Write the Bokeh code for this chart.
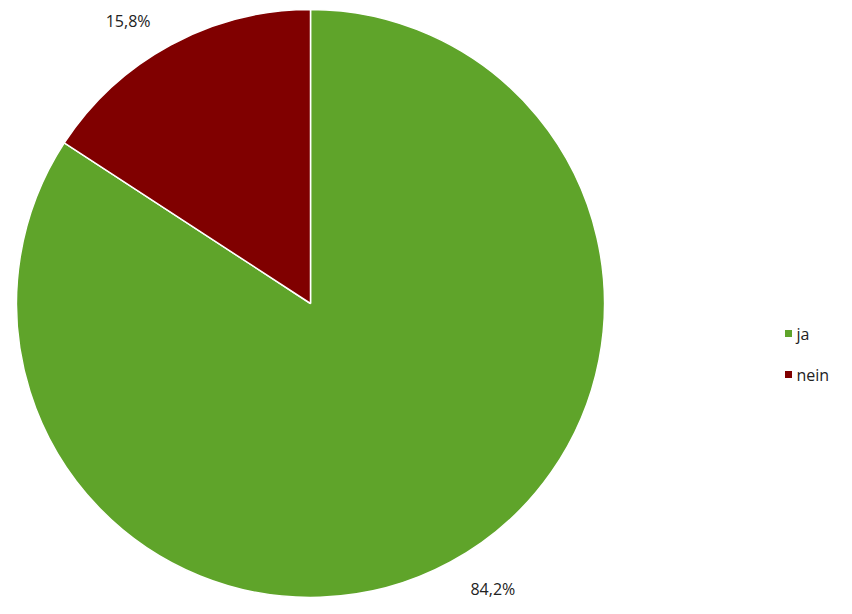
import math
from bokeh.plotting import figure
from bokeh.models import ColumnDataSource
from bokeh.core.properties import value
from bokeh.embed import file_html
from bokeh.resources import INLINE

categories = ["ja", "nein"]
shares = [84.2, 15.8]
labels = ["84,2%", "15,8%"]
colors = ["#5fa42a", "#800000"]

W, H = 836, 598
cx, cy, R = 310, H - 303, 294

# angles: start at top, slices counter-clockwise starting with "nein"
order = [1, 0]
start = math.pi / 2
starts, ends, mids = {}, {}, {}
for i in order:
    a = shares[i] / 100 * 2 * math.pi
    starts[i] = start
    ends[i] = start + a
    mids[i] = start + a / 2
    start += a

src = ColumnDataSource(dict(
    start=[starts[i] for i in range(2)],
    end=[ends[i] for i in range(2)],
    color=colors,
    x=[cx] * 2, y=[cy] * 2,
))

p = figure(width=W, height=H, x_range=(0, W), y_range=(0, H),
           output_backend="svg", toolbar_location=None, min_border=0)
p.axis.visible = False
p.grid.visible = False
p.outline_line_color = None
p.background_fill_color = "white"

p.wedge(x="x", y="y", radius=R, start_angle="start", end_angle="end",
        fill_color="color", line_color="white", line_width=1.5, source=src)

lr = 340
off = math.radians(4)
lx = [cx + lr * math.cos(mids[i] + off) for i in range(2)]
ly = [cy + lr * math.sin(mids[i] + off) for i in range(2)]
ly = [min(max(v, 10), H - 20) for v in ly]
p.text(x=lx, y=ly, text=labels, text_align="center", text_baseline="middle",
       text_font=value("Open Sans"), text_font_size="16px", text_color="#222222")

# legend
leg_x = 788
leg_y = [H - 333, H - 374]
p.scatter(x=[leg_x] * 2, y=leg_y, marker="square", size=7, fill_color=colors,
          line_color=None)
p.text(x=[leg_x + 8] * 2, y=leg_y, text=categories, text_align="left",
       text_baseline="middle", text_font=value("Open Sans"),
       text_font_size="16px", text_color="#222222")

open("out.html", "w").write(file_html(p, INLINE))
